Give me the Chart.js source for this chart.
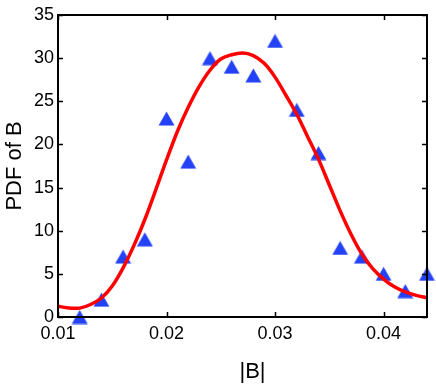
<!DOCTYPE html>
<html>
<head>
<meta charset="utf-8">
<script src="https://cdn.jsdelivr.net/npm/chart.js@4/dist/chart.umd.min.js"></script>
<style>
  html, body { margin: 0; padding: 0; background: #ffffff; }
  #wrap { width: 436px; height: 387px; position: relative; }
</style>
</head>
<body>
<div id="wrap"><canvas id="c" width="436" height="387"></canvas></div>
<script>
// Data
const pointX = [0.012, 0.014, 0.016, 0.018, 0.020, 0.022, 0.024, 0.026, 0.028, 0.030, 0.032, 0.034, 0.036, 0.038, 0.040, 0.042, 0.044];
const pointY = [0, 2, 7, 9, 23, 18, 30, 29, 28, 32, 24, 19, 8, 7, 5, 3, 5];

const curveX = [0.010, 0.011, 0.0115, 0.012, 0.013, 0.014, 0.015, 0.016, 0.017, 0.018, 0.019, 0.020, 0.021, 0.022, 0.023, 0.024, 0.025, 0.026, 0.027, 0.028, 0.029, 0.030, 0.031, 0.032, 0.033, 0.034, 0.035, 0.036, 0.037, 0.038, 0.039, 0.040, 0.041, 0.042, 0.043, 0.044];
const curveY = [1.25, 1.03, 1.0, 1.03, 1.45, 2.2, 3.6, 5.7, 8.3, 11.3, 14.7, 18.2, 21.5, 24.3, 26.7, 28.6, 29.9, 30.4, 30.6, 30.3, 29.4, 27.8, 25.7, 23.5, 20.9, 18.3, 15.3, 12.3, 9.6, 7.3, 5.6, 4.4, 3.5, 2.9, 2.5, 2.25];

const xTicks = [0.01, 0.02, 0.03, 0.04];
const yTicks = [0, 5, 10, 15, 20, 25, 30, 35];
const xTitle = '|B|';
const yTitle = 'PDF of B';

const FONT = '"Liberation Sans", Arial, Helvetica, sans-serif';

// centered triangle marker
const tri = document.createElement('canvas');
tri.width = 17; tri.height = 15;
(function () {
  const g = tri.getContext('2d');
  g.fillStyle = 'rgb(35,65,245)';
  g.beginPath();
  g.moveTo(8.5, 0.5);
  g.lineTo(16.5, 14.5);
  g.lineTo(0.5, 14.5);
  g.closePath();
  g.fill();
})();

const framePlugin = {
  id: 'frame',
  afterDraw(chart) {
    const ctx = chart.ctx;
    const a = chart.chartArea;
    const xs = chart.scales.x, ys = chart.scales.y;
    ctx.save();
    ctx.strokeStyle = '#000';
    ctx.lineWidth = 2;
    ctx.strokeRect(a.left, a.top, a.right - a.left, a.bottom - a.top);
    ctx.lineWidth = 1.5;
    const L = 5;
    ctx.beginPath();
    xTicks.forEach(v => {
      const px = Math.round(xs.getPixelForValue(v)) + 0.5;
      ctx.moveTo(px, a.bottom); ctx.lineTo(px, a.bottom - L);
      ctx.moveTo(px, a.top); ctx.lineTo(px, a.top + L);
    });
    yTicks.forEach(v => {
      const py = Math.round(ys.getPixelForValue(v)) + 0.5;
      ctx.moveTo(a.left, py); ctx.lineTo(a.left + L, py);
      ctx.moveTo(a.right, py); ctx.lineTo(a.right - L, py);
    });
    ctx.stroke();
    // x axis title
    ctx.fillStyle = '#000';
    ctx.font = '22px ' + FONT;
    ctx.textAlign = 'center';
    ctx.textBaseline = 'middle';
    ctx.fillText(xTitle, (a.left + a.right) / 2 + 10, 372);
    ctx.restore();
  }
};

new Chart(document.getElementById('c'), {
  type: 'scatter',
  data: {
    datasets: [
      {
        label: 'fit',
        data: curveX.map((x, i) => ({x: x, y: curveY[i]})),
        showLine: true,
        borderColor: 'rgb(255,0,0)',
        borderWidth: 3.5,
        pointRadius: 0,
        cubicInterpolationMode: 'monotone',
        fill: false,
        order: 0
      },
      {
        label: 'data',
        data: pointX.map((x, i) => ({x: x, y: pointY[i]})),
        pointStyle: tri,
        pointRadius: 8,
        clip: false,
        order: 1
      }
    ]
  },
  options: {
    responsive: false,
    animation: false,
    events: [],
    layout: { padding: { left: 0, top: 15, right: 8, bottom: 0 } },
    plugins: { legend: { display: false }, tooltip: { enabled: false } },
    scales: {
      x: {
        type: 'linear',
        min: 0.01,
        max: 0.044,
        afterBuildTicks: s => { s.ticks = xTicks.map(v => ({value: v})); },
        afterFit: s => { s.height = 70; },
        grid: { display: false, drawTicks: false },
        border: { display: false },
        ticks: {
          color: '#000',
          padding: 6,
          maxRotation: 0,
          font: { family: FONT, size: 18 },
          callback: v => v.toFixed(2)
        },
        title: { display: false, text: xTitle }
      },
      y: {
        type: 'linear',
        min: 0,
        max: 35,
        afterBuildTicks: s => { s.ticks = yTicks.map(v => ({value: v})); },
        afterFit: s => { s.width = 58; },
        grid: { display: false, drawTicks: false },
        border: { display: false },
        ticks: {
          color: '#000',
          padding: 4,
          font: { family: FONT, size: 18 },
          callback: v => String(v)
        },
        title: {
          display: true,
          text: yTitle,
          color: '#000',
          font: { family: FONT, size: 22 },
          padding: { top: 2, bottom: 0 }
        }
      }
    }
  },
  plugins: [framePlugin]
});
</script>
</body>
</html>
